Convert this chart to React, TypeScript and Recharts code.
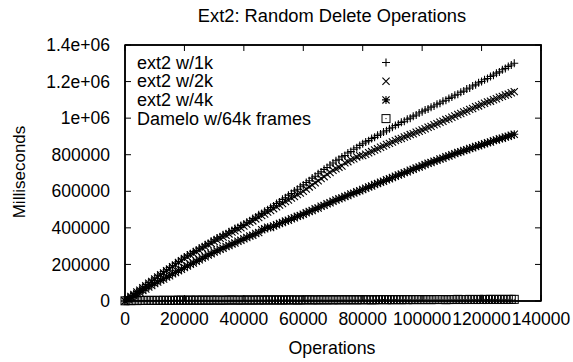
import React from "react";
import { ComposedChart, Scatter, XAxis, YAxis, ReferenceArea } from "recharts";

// operations count for every sample (x axis)
const ops = [
  0, 1000, 2000, 3000, 4000, 5000, 6000, 7000, 8000, 9000,
  10000, 11000, 12000, 13000, 14000, 15000, 16000, 17000, 18000, 19000,
  20000, 21000, 22000, 23000, 24000, 25000, 26000, 27000, 28000, 29000,
  30000, 31000, 32000, 33000, 34000, 35000, 36000, 37000, 38000, 39000,
  40000, 41000, 42000, 43000, 44000, 45000, 46000, 47000, 48000, 49000,
  50000, 51000, 52000, 53000, 54000, 55000, 56000, 57000, 58000, 59000,
  60000, 61000, 62000, 63000, 64000, 65000, 66000, 67000, 68000, 69000,
  70000, 71000, 72000, 73000, 74000, 75000, 76000, 77000, 78000, 79000,
  80000, 81000, 82000, 83000, 84000, 85000, 86000, 87000, 88000, 89000,
  90000, 91000, 92000, 93000, 94000, 95000, 96000, 97000, 98000, 99000,
  100000, 101000, 102000, 103000, 104000, 105000, 106000, 107000, 108000, 109000,
  110000, 111000, 112000, 113000, 114000, 115000, 116000, 117000, 118000, 119000,
  120000, 121000, 122000, 123000, 124000, 125000, 126000, 127000, 128000, 129000,
  130000, 131000,
];

// milliseconds, ext2 with 1k blocks
const ext2w1k = [
  0, 15000, 27000, 41000, 52000, 66000, 76000, 90000, 101000, 114000,
  125000, 138000, 147000, 161000, 170000, 184000, 193000, 207000, 216000, 230000,
  240000, 251000, 258000, 270000, 277000, 289000, 296000, 308000, 315000, 327000,
  335000, 345000, 351000, 362000, 368000, 379000, 385000, 396000, 402000, 413000,
  420000, 431000, 439000, 451000, 459000, 471000, 479000, 491000, 499000, 511000,
  520000, 533000, 542000, 556000, 565000, 579000, 588000, 602000, 611000, 625000,
  635000, 648000, 658000, 672000, 682000, 696000, 706000, 720000, 730000, 744000,
  755000, 767000, 775000, 788000, 796000, 809000, 817000, 830000, 838000, 851000,
  860000, 870000, 877000, 888000, 895000, 906000, 913000, 924000, 931000, 942000,
  950000, 960000, 966000, 977000, 983000, 994000, 1000000, 1011000, 1017000, 1028000,
  1035000, 1044000, 1050000, 1060000, 1066000, 1076000, 1082000, 1092000, 1098000, 1108000,
  1115000, 1125000, 1131000, 1142000, 1148000, 1159000, 1165000, 1176000, 1182000, 1193000,
  1200000, 1210000, 1217000, 1228000, 1235000, 1246000, 1253000, 1265000, 1272000, 1283000,
  1291000, 1300000,
];

// milliseconds, ext2 with 2k blocks
const ext2w2k = [
  0, 12000, 25000, 35000, 49000, 59000, 73000, 83000, 97000, 107000,
  120000, 131000, 143000, 153000, 166000, 175000, 188000, 197000, 211000, 220000,
  232000, 241000, 252000, 259000, 270000, 278000, 289000, 296000, 307000, 315000,
  325000, 334000, 343000, 350000, 360000, 367000, 377000, 384000, 394000, 401000,
  410000, 420000, 430000, 438000, 449000, 457000, 468000, 476000, 487000, 495000,
  505000, 515000, 525000, 533000, 544000, 552000, 563000, 571000, 582000, 590000,
  600000, 612000, 624000, 634000, 647000, 657000, 670000, 680000, 693000, 703000,
  715000, 723000, 732000, 738000, 756000, 762000, 772000, 778000, 788000, 794000,
  795000, 803000, 811000, 817000, 826000, 832000, 841000, 847000, 856000, 862000,
  870000, 877000, 884000, 889000, 897000, 902000, 910000, 915000, 923000, 928000,
  935000, 942000, 950000, 955000, 964000, 969000, 978000, 983000, 992000, 997000,
  1005000, 1012000, 1020000, 1025000, 1034000, 1039000, 1048000, 1053000, 1062000, 1067000,
  1075000, 1081000, 1089000, 1093000, 1101000, 1106000, 1114000, 1119000, 1127000, 1131000,
  1139000, 1145000,
];

// milliseconds, ext2 with 4k blocks
const ext2w4k = [
  0, 10000, 20000, 28000, 39000, 47000, 58000, 66000, 77000, 85000,
  95000, 104000, 114000, 120000, 131000, 138000, 149000, 156000, 166000, 173000,
  183000, 192000, 201000, 208000, 218000, 225000, 235000, 242000, 252000, 259000,
  268000, 275000, 283000, 289000, 298000, 303000, 312000, 317000, 327000, 332000,
  340000, 347000, 355000, 360000, 369000, 374000, 390000, 395000, 404000, 402000,
  410000, 417000, 424000, 429000, 437000, 442000, 450000, 455000, 463000, 468000,
  475000, 482000, 490000, 495000, 504000, 509000, 518000, 523000, 532000, 537000,
  545000, 552000, 559000, 564000, 572000, 577000, 585000, 590000, 598000, 603000,
  610000, 617000, 624000, 629000, 637000, 642000, 650000, 655000, 663000, 668000,
  675000, 682000, 689000, 694000, 702000, 707000, 715000, 720000, 728000, 733000,
  740000, 746000, 753000, 757000, 765000, 769000, 777000, 781000, 789000, 793000,
  800000, 806000, 812000, 816000, 823000, 827000, 834000, 838000, 845000, 849000,
  855000, 860000, 866000, 870000, 877000, 881000, 887000, 890000, 897000, 901000,
  907000, 912000,
];

// milliseconds, Damelo with 64k frames
const dameloW64k = [
  1000, 2000, 2000, 3000, 2000, 3000, 3000, 3000, 4000, 3000,
  3000, 4000, 3000, 4000, 4000, 3000, 4000, 4000, 4000, 5000,
  4000, 4000, 5000, 4000, 5000, 4000, 5000, 5000, 4000, 5000,
  5000, 5000, 4000, 5000, 5000, 5000, 6000, 5000, 5000, 5000,
  5000, 6000, 5000, 5000, 6000, 5000, 6000, 5000, 6000, 6000,
  5000, 6000, 6000, 5000, 6000, 6000, 6000, 6000, 5000, 6000,
  6000, 6000, 7000, 6000, 6000, 6000, 7000, 6000, 6000, 7000,
  6000, 7000, 6000, 7000, 7000, 6000, 7000, 7000, 6000, 7000,
  7000, 7000, 7000, 6000, 7000, 7000, 7000, 8000, 7000, 7000,
  7000, 8000, 7000, 7000, 8000, 7000, 8000, 7000, 8000, 8000,
  7000, 8000, 8000, 7000, 8000, 8000, 8000, 8000, 7000, 8000,
  8000, 8000, 9000, 8000, 8000, 8000, 9000, 8000, 8000, 9000,
  8000, 9000, 8000, 9000, 9000, 8000, 9000, 9000, 8000, 9000,
  9000, 9000,
];

const xTicks = [0, 20000, 40000, 60000, 80000, 100000, 120000, 140000];
const yTicks = [0, 200000, 400000, 600000, 800000, 1000000, 1200000, 1400000];
const xMax = 140000;
const yMax = 1400000;

const seriesNames = ["ext2 w/1k", "ext2 w/2k", "ext2 w/4k", "Damelo w/64k frames"];

const FONT = '"Liberation Sans", Arial, Helvetica, sans-serif';
const INK = "#000";

// plot box (px)
const PLOT_LEFT = 125;
const PLOT_TOP = 45;
const PLOT_RIGHT = 541;
const PLOT_BOTTOM = 301;
const TICK = 6;

const toPoints = (vals: number[]) => vals.map((y, i) => ({ x: ops[i], y }));

const formatY = (v: number) => {
  if (v >= 1000000) {
    const m = v / 1000000;
    return m === 1 ? "1e+06" : `${m}e+06`;
  }
  return String(v);
};

// gnuplot style point types
const S = 4;
const D = 3.6;
function PlusMark({ cx, cy }: any) {
  return (
    <path
      d={`M${cx - S},${cy}H${cx + S}M${cx},${cy - S}V${cy + S}`}
      stroke={INK}
      strokeWidth={1.1}
      fill="none"
    />
  );
}
function CrossMark({ cx, cy }: any) {
  return (
    <path
      d={`M${cx - D},${cy - D}L${cx + D},${cy + D}M${cx + D},${cy - D}L${cx - D},${cy + D}`}
      stroke={INK}
      strokeWidth={1.1}
      fill="none"
    />
  );
}
function StarMark({ cx, cy }: any) {
  return (
    <path
      d={`M${cx - S},${cy}H${cx + S}M${cx},${cy - S}V${cy + S}M${cx - D},${cy - D}L${cx + D},${cy + D}M${cx + D},${cy - D}L${cx - D},${cy + D}`}
      stroke={INK}
      strokeWidth={1.1}
      fill="none"
    />
  );
}
function BoxMark({ cx, cy }: any) {
  return (
    <g>
      <rect x={cx - S} y={cy - S} width={2 * S} height={2 * S} stroke={INK} strokeWidth={1} fill="none" />
      <rect x={cx - 0.5} y={cy - 0.5} width={1} height={1} fill={INK} />
    </g>
  );
}

const marks = [PlusMark, CrossMark, StarMark, BoxMark];
const seriesData = [ext2w1k, ext2w2k, ext2w4k, dameloW64k].map(toPoints);

// mirrored tick positions on the top and right borders
const topTickX = (v: number) => PLOT_LEFT + (v / xMax) * (PLOT_RIGHT - PLOT_LEFT);
const rightTickY = (v: number) => PLOT_BOTTOM - (v / yMax) * (PLOT_BOTTOM - PLOT_TOP);

export default function App() {
  const tickStyle = { fill: INK, fontSize: 17.5, fontFamily: FONT };
  const axisLine = { stroke: INK, strokeWidth: 1.5 };
  return (
    <div style={{ position: "absolute", left: 0, top: 0, width: 573, height: 362, background: "#fff" }}>
      <ComposedChart
        width={573}
        height={362}
        margin={{ top: PLOT_TOP, right: 573 - PLOT_RIGHT, bottom: 0, left: 0 }}
      >
        <XAxis
          type="number"
          dataKey="x"
          domain={[0, xMax]}
          ticks={xTicks}
          interval={0}
          orientation="bottom"
          height={362 - PLOT_BOTTOM}
          tickSize={-TICK}
          tickMargin={18}
          axisLine={axisLine}
          tickLine={{ stroke: INK }}
          tick={tickStyle}
        />
        <YAxis
          type="number"
          domain={[0, yMax]}
          ticks={yTicks}
          interval={0}
          orientation="left"
          width={PLOT_LEFT}
          tickSize={-TICK}
          tickMargin={21}
          tickFormatter={formatY}
          axisLine={axisLine}
          tickLine={{ stroke: INK }}
          tick={tickStyle}
        />
        {/* plot frame */}
        <ReferenceArea
          x1={0}
          x2={xMax}
          y1={0}
          y2={yMax}
          fill="none"
          fillOpacity={0}
          stroke={INK}
          strokeWidth={1.5}
          strokeOpacity={1}
          ifOverflow="visible"
        />
        {seriesData.map((d, i) => (
          <Scatter
            key={seriesNames[i]}
            name={seriesNames[i]}
            data={d}
            dataKey="y"
            shape={marks[i]}
            isAnimationActive={false}
          />
        ))}
      </ComposedChart>
      <svg
        width={573}
        height={362}
        style={{ position: "absolute", left: 0, top: 0, pointerEvents: "none", overflow: "visible" }}
        fontFamily={FONT}
      >
        <line x1={PLOT_LEFT} x2={PLOT_RIGHT + 0.75} y1={PLOT_TOP} y2={PLOT_TOP} stroke={INK} strokeWidth={1.6} />
        <line x1={PLOT_RIGHT} x2={PLOT_RIGHT} y1={PLOT_TOP} y2={PLOT_BOTTOM} stroke={INK} strokeWidth={1.6} />
        {xTicks.map((v) => (
          <line
            key={`tx${v}`}
            x1={topTickX(v)}
            x2={topTickX(v)}
            y1={PLOT_TOP}
            y2={PLOT_TOP + TICK}
            stroke={INK}
            strokeWidth={1}
          />
        ))}
        {yTicks.map((v) => (
          <line
            key={`ty${v}`}
            x1={PLOT_RIGHT - TICK}
            x2={PLOT_RIGHT}
            y1={rightTickY(v)}
            y2={rightTickY(v)}
            stroke={INK}
            strokeWidth={1}
          />
        ))}
        <text x={332} y={15} textAnchor="middle" dominantBaseline="central" fontSize={18.3} fill={INK}>
          Ext2: Random Delete Operations
        </text>
        <text x={332} y={348} textAnchor="middle" dominantBaseline="central" fontSize={17.8} fill={INK}>
          Operations
        </text>
        <text
          x={19}
          y={172}
          textAnchor="middle"
          dominantBaseline="central"
          fontSize={17}
          fill={INK}
          transform="rotate(-90 19 172)"
        >
          Milliseconds
        </text>
        {seriesNames.map((name, i) => {
          const y = 62.5 + i * 18.7;
          const Mark = marks[i];
          return (
            <g key={name}>
              <text x={137} y={y} dominantBaseline="central" fontSize={18} fill={INK}>
                {name}
              </text>
              <Mark cx={386} cy={y} />
            </g>
          );
        })}
      </svg>
    </div>
  );
}
